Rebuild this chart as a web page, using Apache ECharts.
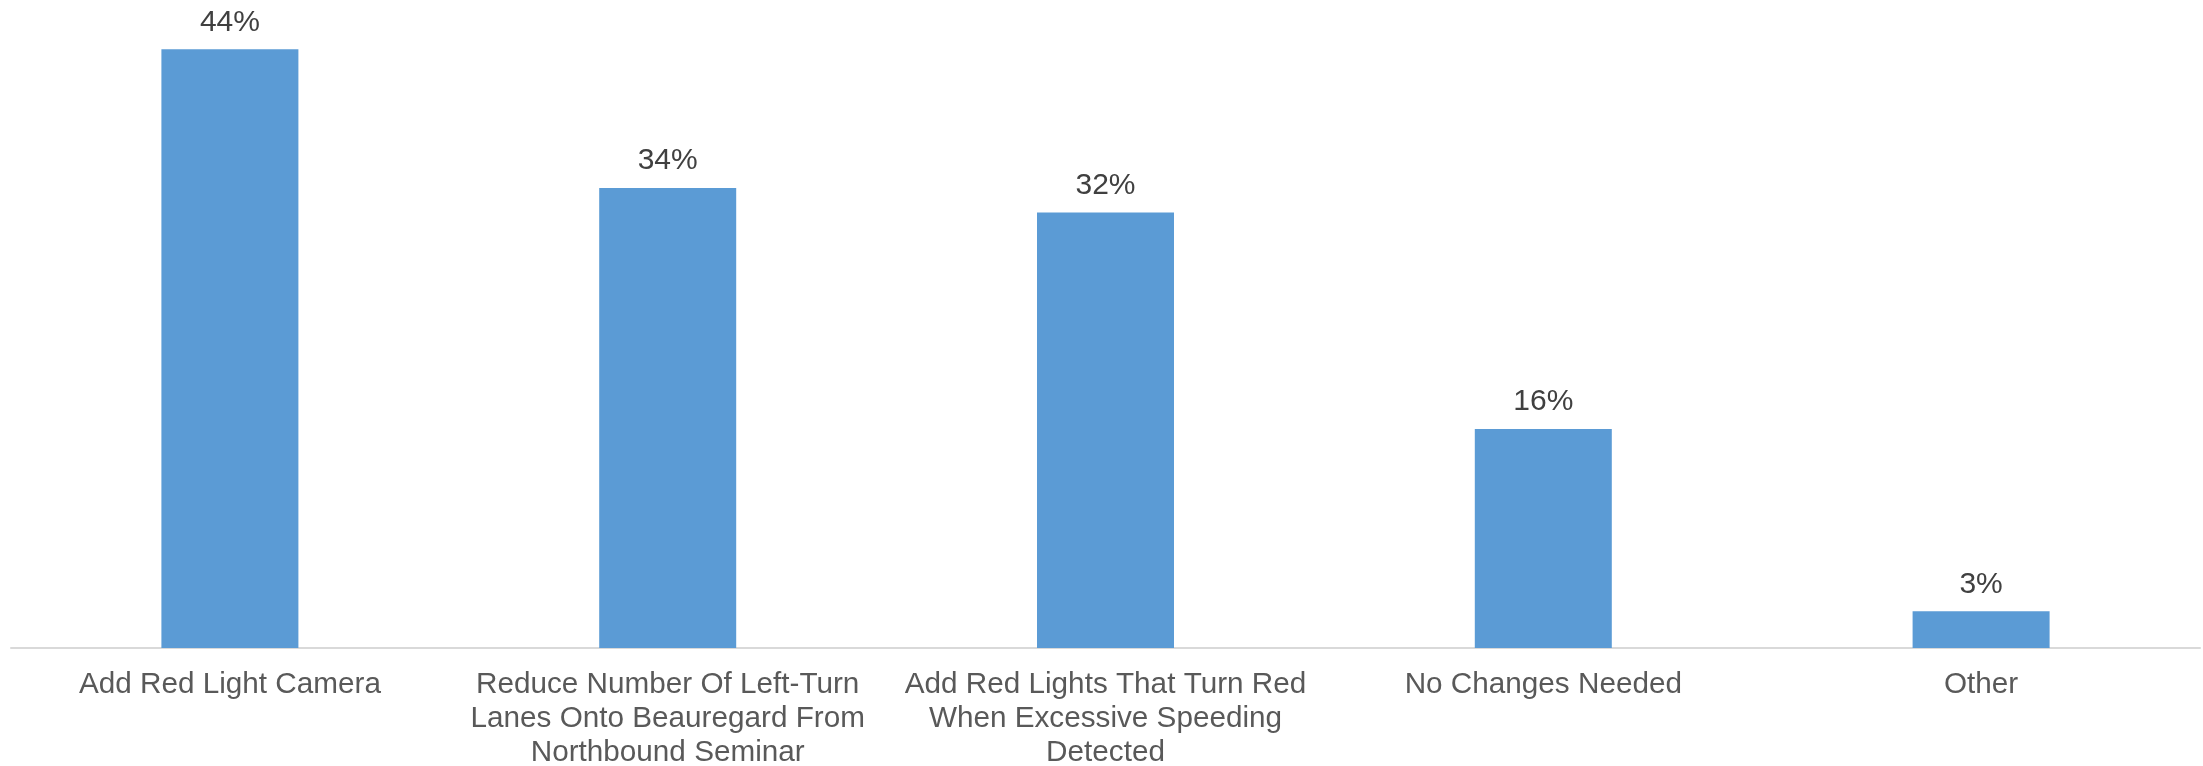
<!DOCTYPE html>
<html>
<head>
<meta charset="utf-8">
<script src="https://cdn.jsdelivr.net/npm/echarts@6/dist/echarts.min.js"></script>
<style>
html,body{margin:0;padding:0;background:#fff;}
#chart{width:2203px;height:766px;}
</style>
</head>
<body>
<div id="chart"></div>
<script>
const categories = [
  "Add Red Light Camera",
  "Reduce Number Of Left-Turn\nLanes Onto Beauregard From\nNorthbound Seminar",
  "Add Red Lights That Turn Red\nWhen Excessive Speeding\nDetected",
  "No Changes Needed",
  "Other"
];
const shares = [0.44, 0.338, 0.320, 0.161, 0.027];

const chart = echarts.init(document.getElementById('chart'), null, {renderer: 'canvas'});
chart.setOption({
  animation: false,
  backgroundColor: '#ffffff',
  grid: {left: 11, right: 3, top: 49.3, bottom: 118, containLabel: false, outerBoundsMode: 'none'},
  xAxis: {
    type: 'category',
    data: categories,
    axisLine: {show: true, lineStyle: {color: '#D9D9D9', width: 2}},
    axisTick: {show: false},
    axisLabel: {
      interval: 0,
      color: '#595959',
      fontFamily: 'Liberation Sans, Arial, sans-serif',
      fontSize: 29.7,
      lineHeight: 34,
      margin: 20
    }
  },
  yAxis: {
    type: 'value',
    min: 0,
    max: 0.44,
    show: false,
    splitLine: {show: false}
  },
  series: [{
    type: 'bar',
    data: shares,
    barWidth: 137,
    itemStyle: {color: '#5B9BD5'},
    label: {
      show: true,
      position: 'top',
      distance: 12,
      color: '#404040',
      fontFamily: 'Liberation Sans, Arial, sans-serif',
      fontSize: 30,
      formatter: p => Math.round(p.value * 100) + '%'
    }
  }]
});
</script>
</body>
</html>
